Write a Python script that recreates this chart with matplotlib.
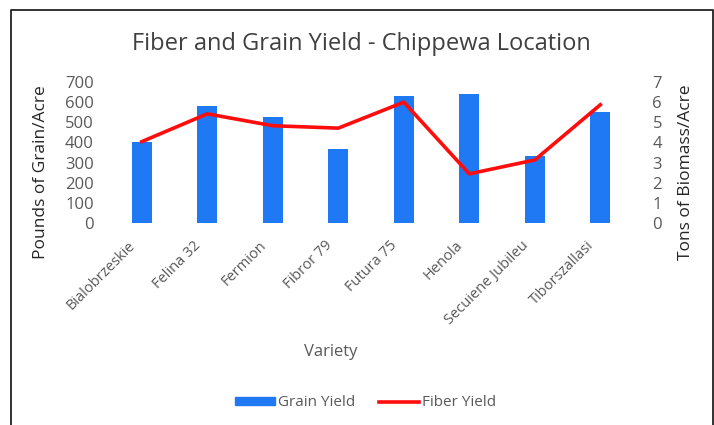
import matplotlib.pyplot as plt
from matplotlib.lines import Line2D
from matplotlib.patches import Patch
from matplotlib.transforms import ScaledTranslation

plt.rcParams['font.family'] = ['Open Sans', 'DejaVu Sans']

varieties = ['Bialobrzeskie', 'Felina 32', 'Fermion', 'Fibror 79',
             'Futura 75', 'Henola', 'Secuiene Jubileu', 'Tiborszallasi']
grain_yield = [404, 582, 526, 368, 633, 642, 332, 549]   # lbs grain / acre
fiber_yield = [4.04, 5.42, 4.83, 4.71, 6.0, 2.44, 3.13, 5.87]  # tons biomass / acre

grey = '#595959'
blue = '#1f78f4'
red = '#ff0d0d'

fig = plt.figure(figsize=(7.14, 4.25), dpi=100)
ax = fig.add_axes([0.1527, 0.4753, 0.7339, 0.3317])
ax2 = ax.twinx()

x = list(range(len(varieties)))
ax.bar(x, grain_yield, width=0.31, color=blue, zorder=2)
ax2.plot(x, fiber_yield, color=red, lw=2.6, zorder=3)

ax.set_xlim(-0.5, len(varieties) - 0.5)
ax.set_ylim(0, 700)
ax2.set_ylim(0, 7)
ax.set_yticks(range(0, 701, 100))
ax2.set_yticks(range(0, 8))

for a in (ax, ax2):
    for s in a.spines.values():
        s.set_visible(False)
    a.tick_params(length=0, colors=grey, labelsize=12)

# category labels drawn by hand so they can sit a bit left of the bars
ax.set_xticks(x)
ax.set_xticklabels([])
shift = ScaledTranslation(-0.14, -0.15, fig.dpi_scale_trans)
for xi, name in zip(x, varieties):
    ax.text(xi, 0, name, rotation=45, ha='right', va='top',
            rotation_mode='anchor', fontsize=10.5, color=grey,
            transform=ax.get_xaxis_transform() + shift)
ax.tick_params(axis='y', pad=11)
ax2.tick_params(axis='y', pad=14)

ax.set_ylabel('Pounds of Grain/Acre', fontsize=12.5, color='#262626')
ax.yaxis.set_label_coords(-0.1145, 0.36)
ax2.set_ylabel('Tons of Biomass/Acre', fontsize=12.5, color='#262626')
ax2.yaxis.set_label_coords(1.086, 0.36)
fig.text(331 / 714, 1 - 352 / 425, 'Variety', ha='center', va='center',
         fontsize=12, color=grey)

fig.text(0.506, 0.896, 'Fiber and Grain Yield - Chippewa Location',
         ha='center', va='center', fontsize=17, color='#404040')

handles = [Patch(color=blue), Line2D([], [], color=red, lw=2.6)]
fig.legend(handles, ['Grain Yield', 'Fiber Yield'], loc='center',
           bbox_to_anchor=(0.512, 0.052), ncol=2, frameon=False,
           fontsize=11, labelcolor=grey, handlelength=2.6, handleheight=0.45,
           handletextpad=0.2, columnspacing=1.6)

# frame around the chart (top, left, right)
fig.add_artist(Line2D([0.015, 0.015, 0.998, 0.998], [0.0, 0.977, 0.977, 0.0],
                      transform=fig.transFigure, color='#222222', lw=1.3))

fig.savefig('out.png', dpi=100)
